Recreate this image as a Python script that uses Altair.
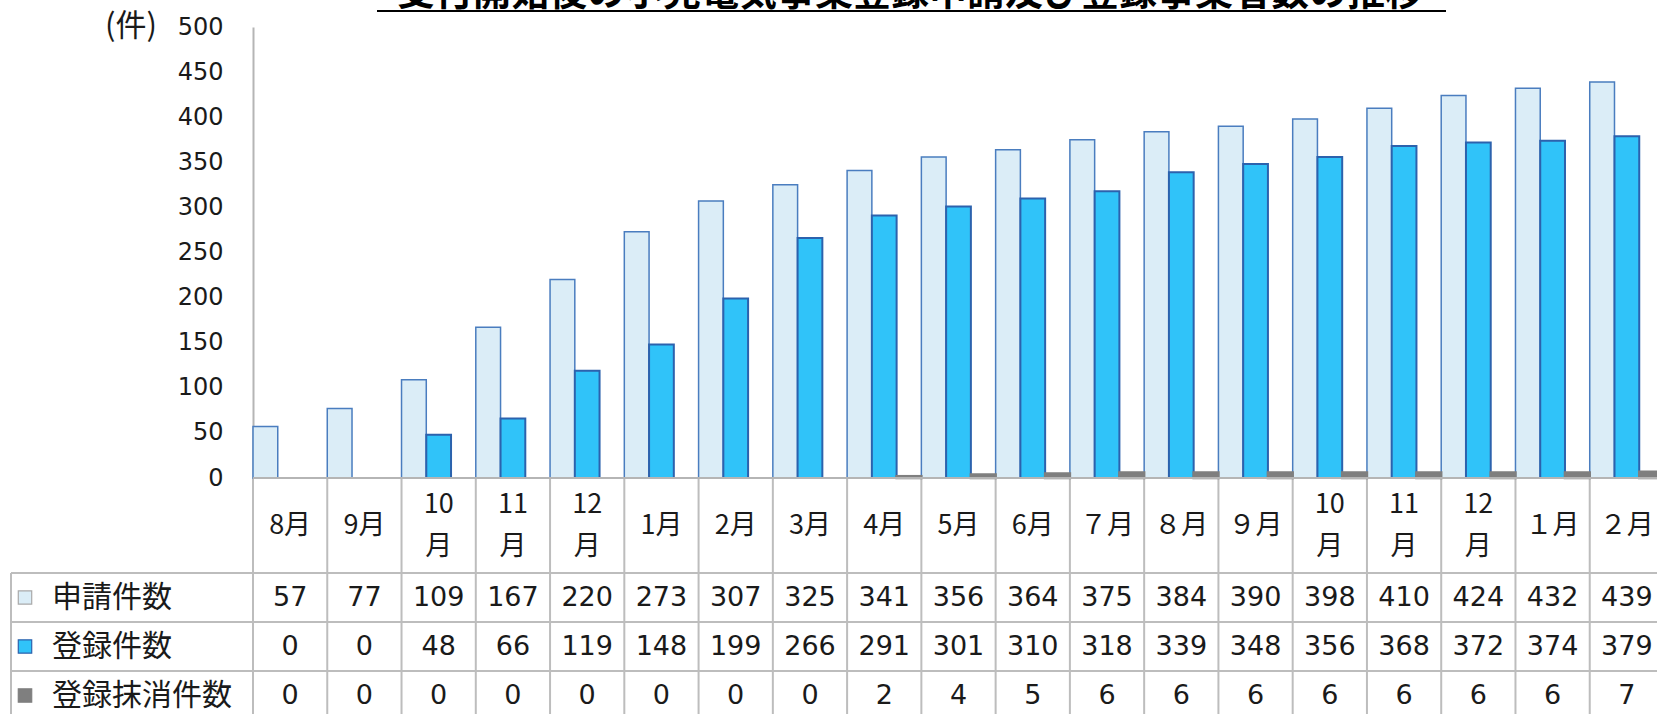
import altair as alt
import pandas as pd

# ---- data ----
month_keys = ["2015-08", "2015-09", "2015-10", "2015-11", "2015-12", "2016-01", "2016-02",
              "2016-03", "2016-04", "2016-05", "2016-06", "2016-07", "2016-08", "2016-09",
              "2016-10", "2016-11", "2016-12", "2017-01", "2017-02"]
month_labels = ["8月", "9月", "10\n月", "11\n月", "12\n月", "1月", "2月", "3月", "4月", "5月",
                "6月", "７月", "８月", "９月", "10\n月", "11\n月", "12\n月", "１月", "２月"]
series_names = ["申請件数", "登録件数", "登録抹消件数"]
applications = [57, 77, 109, 167, 220, 273, 307, 325, 341, 356, 364, 375, 384, 390, 398, 410, 424, 432, 439]
registered = [0, 0, 48, 66, 119, 148, 199, 266, 291, 301, 310, 318, 339, 348, 356, 368, 372, 374, 379]
cancelled = [0, 0, 0, 0, 0, 0, 0, 0, 2, 4, 5, 6, 6, 6, 6, 6, 6, 6, 7]
y_ticks = [0, 50, 100, 150, 200, 250, 300, 350, 400, 450, 500]
title_text = "受付開始後の小売電気事業登録申請及び登録事業者数の推移"
unit_text = "(件)"

# ---- tables built from the arrays ----
long_df = pd.DataFrame({
    "key": month_keys * 3,
    "series": [s for s in series_names for _ in month_keys],
    "value": applications + registered + cancelled,
})
months_df = pd.DataFrame({"key": month_keys, "label": month_labels})
rows_df = pd.DataFrame({"series": series_names})
title_df = pd.DataFrame({"t": [title_text]})
unit_df = pd.DataFrame({"t": [unit_text]})

fills = ["#dbedf7", "#30c3f9", "#7f7f7f"]
strokes = ["#4a7dbf", "#2c62ad", "#7f7f7f"]
widths = [1.5, 2.5, 0]
grid_gray = "#d9d9d9"
table_gray = "#bdbdbd"

W, H = 1404, 451
HEADER_MID = 498.5
LINE_H = 42
x_scale = alt.Scale(domain=month_keys, range=[0, 1411], paddingInner=0, paddingOuter=0)
row_scale = alt.Scale(domain=series_names, range=[546, 693], paddingInner=0, paddingOuter=0)

bars = alt.Chart(long_df).transform_filter("datum.value > 0").mark_bar().encode(
    x=alt.X("key:N", scale=x_scale, axis=None, sort=month_keys),
    xOffset=alt.XOffset("series:N", scale=alt.Scale(domain=series_names, paddingInner=0, paddingOuter=0)),
    y=alt.Y("value:Q", scale=alt.Scale(domain=[0, 500]),
            axis=alt.Axis(values=y_ticks, title=None, labelFont="DejaVu Sans", labelFontSize=24,
                          labelColor="#1a1a1a", labelPadding=30, ticks=False,
                          domainColor="#b5b5b5", domainWidth=2, gridColor=grid_gray, gridWidth=1.5)),
    color=alt.Color("series:N", scale=alt.Scale(domain=series_names, range=fills), legend=None),
    stroke=alt.Stroke("series:N", scale=alt.Scale(domain=series_names, range=strokes), legend=None),
    strokeWidth=alt.StrokeWidth("series:N", scale=alt.Scale(domain=series_names, range=widths), legend=None),
)

zero_line = alt.Chart(rows_df.head(1)).mark_rule(color="#b5b5b5", strokeWidth=2).encode(
    x=alt.value(0), x2=alt.value(1411), y=alt.value(H)
)

col_rules = alt.Chart(months_df).mark_rule(color=table_gray, strokeWidth=2).encode(
    x=alt.X("key:N", scale=x_scale, axis=None, bandPosition=0),
    y=alt.value(H), y2=alt.value(720),
)

row_rules = alt.Chart(rows_df).mark_rule(color=table_gray, strokeWidth=2).encode(
    y=alt.Y("series:N", scale=row_scale, axis=None, bandPosition=0),
    x=alt.value(-242), x2=alt.value(1411),
)

left_border = alt.Chart(rows_df.head(1)).mark_rule(color=table_gray, strokeWidth=2).encode(
    x=alt.value(-242), y=alt.value(546), y2=alt.value(720)
)

header_style = dict(font="Noto Sans CJK JP", fontSize=27, color="#1a1a1a", lineBreak="\n",
                    lineHeight=LINE_H, baseline="middle", align="center")

header_single = alt.Chart(months_df).transform_filter(
    "indexof(datum.label, '\\n') < 0"
).mark_text(**header_style).encode(
    x=alt.X("key:N", scale=x_scale, axis=None),
    y=alt.value(HEADER_MID),
    text="label:N",
)

header_double = alt.Chart(months_df).transform_filter(
    "indexof(datum.label, '\\n') >= 0"
).mark_text(**header_style).encode(
    x=alt.X("key:N", scale=x_scale, axis=None),
    y=alt.value(HEADER_MID - LINE_H / 2),
    text="label:N",
)

value_text = alt.Chart(long_df).mark_text(
    font="DejaVu Sans", fontSize=27, color="#1a1a1a", baseline="middle", align="center"
).encode(
    x=alt.X("key:N", scale=x_scale, axis=None),
    y=alt.Y("series:N", scale=row_scale, axis=None),
    text="value:Q",
)

legend_marks = alt.Chart(rows_df).mark_square(size=180, opacity=1, filled=True, strokeWidth=1.2).encode(
    x=alt.value(-228),
    y=alt.Y("series:N", scale=row_scale, axis=None),
    color=alt.Color("series:N", scale=alt.Scale(domain=series_names, range=fills), legend=None),
    stroke=alt.Stroke("series:N", scale=alt.Scale(domain=series_names,
                                                   range=["#a9a9a9", "#2c62ad", "#7f7f7f"]), legend=None),
)

row_labels = alt.Chart(rows_df).mark_text(
    font="Noto Sans CJK JP", fontSize=30, color="#1a1a1a", align="left", baseline="middle"
).encode(
    x=alt.value(-201),
    y=alt.Y("series:N", scale=row_scale, axis=None),
    text="series:N",
)

unit_label = alt.Chart(unit_df).mark_text(
    font="Noto Sans CJK JP", fontSize=31, color="#1a1a1a", align="center", baseline="middle"
).encode(x=alt.value(-122), y=alt.value(0), text="t:N")

title_mark = alt.Chart(title_df).mark_text(
    font="Noto Sans CJK JP", fontSize=38, fontWeight="bold", color="#000000",
    align="center", baseline="alphabetic"
).encode(x=alt.value(657), y=alt.value(-22), text="t:N")

underline = alt.Chart(title_df).mark_rule(color="#000000", strokeWidth=2).encode(
    x=alt.value(124), x2=alt.value(1193), y=alt.value(-16)
)

chart = alt.layer(
    col_rules, row_rules, left_border, bars, zero_line, header_single, header_double, value_text,
    legend_marks, row_labels, unit_label, title_mark, underline
).resolve_scale(
    y="independent", stroke="independent"
).properties(
    width=W, height=H,
    autosize=alt.AutoSizeParams(type="none"),
    padding={"left": 253, "top": 27, "right": 0, "bottom": 236},
    background="white",
).configure_view(strokeWidth=0)

chart.save("out.html", embed_options={"renderer": "svg", "actions": False})
